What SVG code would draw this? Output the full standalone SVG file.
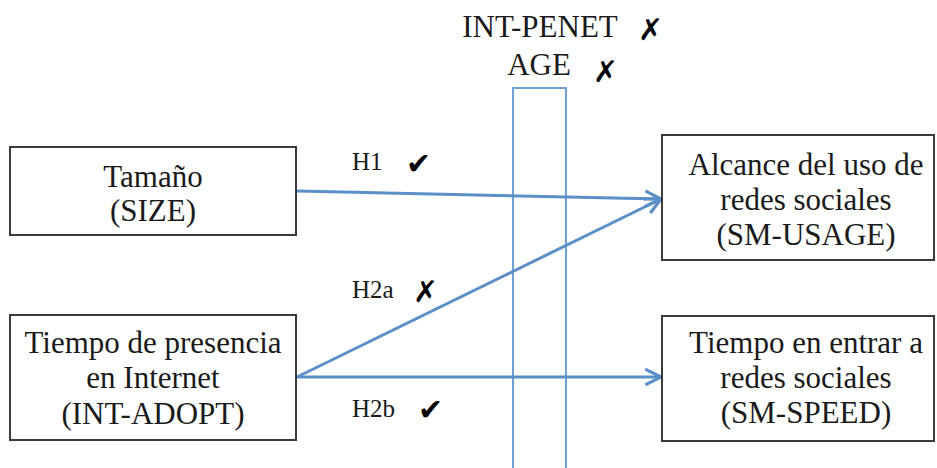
<svg xmlns="http://www.w3.org/2000/svg" width="937" height="468" viewBox="0 0 937 468">
  <defs>
    <style>
      .box { fill: #ffffff; stroke: #3a3a3a; stroke-width: 2; }
      .txt { font-family: 'Liberation Serif', 'Times New Roman', Times, 'DejaVu Serif', serif; font-size: 31px; fill: #1a1a1a; text-anchor: middle; }
      .lbl { font-family: 'Liberation Serif', 'Times New Roman', Times, 'DejaVu Serif', serif; font-size: 25px; fill: #1a1a1a; }
      .mark { font-family: 'DejaVu Sans', sans-serif; font-size: 30px; font-weight: bold; fill: #000000; }
      .edge { fill: none; stroke: #5b8fc8; stroke-width: 3; marker-end: url(#arrow); }
      .band { fill: none; stroke: #6f9fd3; stroke-width: 2; }
    </style>
    <marker id="arrow" viewBox="0 0 12 12" refX="11" refY="6" markerWidth="7" markerHeight="7" orient="auto" markerUnits="strokeWidth">
      <polyline points="2,1.5 11,6 2,10.5" fill="none" stroke="#5b8fc8" stroke-width="1.8"/>
    </marker>
  </defs>

  <rect width="937" height="468" fill="#ffffff"/>

  <!-- moderator band -->
  <g id="moderators">
    <text class="txt" x="540" y="37">INT-PENET</text>
    <text class="mark" x="638" y="40">✗</text>
    <text class="txt" x="539" y="75">AGE</text>
    <text class="mark" x="593" y="82">✗</text>
    <path class="band" d="M513,470 V88 H566 V470"/>
  </g>

  <!-- connectors -->
  <g id="connectors">
    <line class="edge" x1="297" y1="191" x2="661" y2="199"/>
    <line class="edge" x1="297" y1="377" x2="661" y2="199"/>
    <line class="edge" x1="297" y1="377" x2="661" y2="377"/>
    <text class="lbl" x="352" y="170">H1</text>
    <text class="mark" x="406" y="174">✔</text>
    <text class="lbl" x="352" y="298">H2a</text>
    <text class="mark" x="413" y="302">✗</text>
    <text class="lbl" x="352" y="417">H2b</text>
    <text class="mark" x="418" y="420">✔</text>
  </g>

  <g id="size">
    <rect class="box" x="10" y="147" width="286" height="88"/>
    <text class="txt" x="153" y="187">Tamaño</text>
    <text class="txt" x="153" y="221">(SIZE)</text>
  </g>

  <g id="int-adopt">
    <rect class="box" x="10" y="315" width="286" height="125"/>
    <text class="txt" x="153" y="353">Tiempo de presencia</text>
    <text class="txt" x="153" y="388">en Internet</text>
    <text class="txt" x="153" y="424">(INT-ADOPT)</text>
  </g>

  <g id="sm-usage">
    <rect class="box" x="662" y="135" width="272" height="125"/>
    <text class="txt" x="806" y="175">Alcance del uso de</text>
    <text class="txt" x="806" y="210">redes sociales</text>
    <text class="txt" x="806" y="245">(SM-USAGE)</text>
  </g>

  <g id="sm-speed">
    <rect class="box" x="662" y="316" width="272" height="125"/>
    <text class="txt" x="806" y="353">Tiempo en entrar a</text>
    <text class="txt" x="806" y="388">redes sociales</text>
    <text class="txt" x="806" y="423">(SM-SPEED)</text>
  </g>
</svg>
